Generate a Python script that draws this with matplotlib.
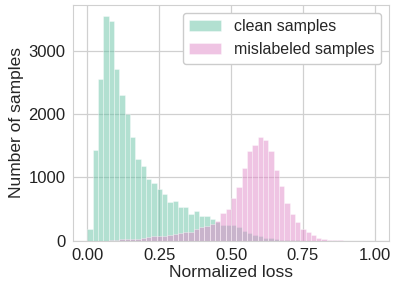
import matplotlib
matplotlib.use('Agg')
import matplotlib.pyplot as plt
import numpy as np
import seaborn as sns

sns.set_style("whitegrid")
plt.rcParams['font.family'] = ['Liberation Sans', 'DejaVu Sans']

# histogram counts, 54 bins over [0, 1]
clean_counts = [190, 1434, 2550, 3545, 3476, 2709, 2302, 2005, 1635, 1296,
                1175, 979, 905, 820, 741, 603, 630, 529, 529, 423,
                460, 381, 381, 344, 300, 249, 249, 249, 212, 159,
                116, 90, 74, 45, 37, 21, 16, 8, 5, 3,
                0, 0, 0, 0, 0, 0, 0, 0, 0, 0,
                0, 0, 0, 0]
mislabeled_counts = [0, 0, 0, 0, 5, 16, 26, 26, 26, 32,
                     37, 53, 74, 80, 79, 90, 100, 127, 143, 132,
                     185, 212, 238, 265, 305, 434, 500, 672, 847, 1148,
                     1423, 1508, 1635, 1582, 1413, 1111, 868, 600, 418, 291,
                     185, 132, 85, 48, 26, 10, 5, 2, 0, 0,
                     0, 0, 0, 0]
labels = ["clean samples", "mislabeled samples"]
colors = ["#66c2a5", "#e08ac8"]

edges = np.linspace(0, 1, len(clean_counts) + 1)
width = edges[1] - edges[0]

fig = plt.figure(figsize=(3.99, 2.92), dpi=100)
ax = fig.add_axes([0.183, 0.176, 0.792, 0.807])

ax.bar(edges[:-1], clean_counts, width=width, align='edge', color=colors[0],
       alpha=0.5, edgecolor='white', linewidth=0.5, label=labels[0])
ax.bar(edges[:-1], mislabeled_counts, width=width, align='edge', color=colors[1],
       alpha=0.5, edgecolor='white', linewidth=0.5, label=labels[1])

ax.set_xlim(-0.05, 1.05)
ax.set_ylim(0, 3723)
ax.set_xticks([0, 0.25, 0.5, 0.75, 1.0])
ax.set_xticklabels(["0.00", "0.25", "0.50", "0.75", "1.00"])
ax.set_yticks([0, 1000, 2000, 3000])
ax.tick_params(labelsize=12, colors='#222222', pad=2)
ax.set_xlabel("Normalized loss", fontsize=12.5, labelpad=1)
ax.set_ylabel("Number of samples", fontsize=12.5, labelpad=3)
ax.grid(color='#d0d0d0', linewidth=0.9)
for s in ax.spines.values():
    s.set_color('#d0d0d0')

ax.legend(loc='upper right', fontsize=11.5, framealpha=1)

plt.savefig("out.png", dpi=100)
